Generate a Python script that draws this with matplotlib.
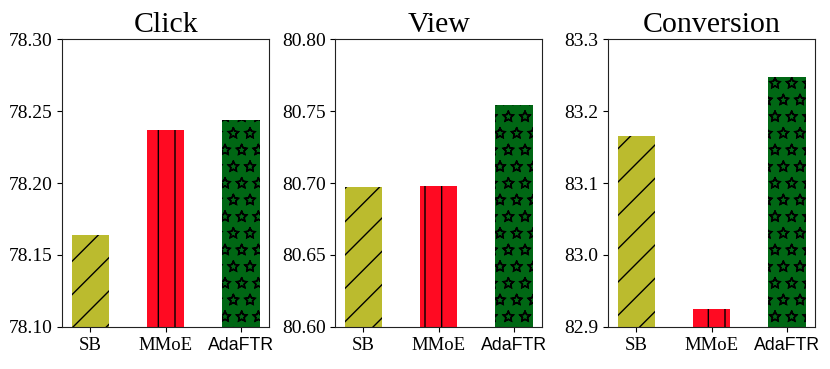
import matplotlib
matplotlib.use("Agg")
import matplotlib.pyplot as plt
import matplotlib.hatch as mhatch

methods = ["SB", "MMoE", "AdaFTR"]
titles = ["Click", "View", "Conversion"]
click = [78.164, 78.237, 78.244]
view = [80.697, 80.698, 80.754]
conversion = [83.165, 82.925, 83.247]
ylims = [(78.10, 78.30), (80.60, 80.80), (82.9, 83.3)]
yticks = [
    [78.10, 78.15, 78.20, 78.25, 78.30],
    [80.60, 80.65, 80.70, 80.75, 80.80],
    [82.9, 83.0, 83.1, 83.2, 83.3],
]
yfmt = ["{:.2f}", "{:.2f}", "{:.1f}"]

colors = ["#bbbb2e", "#ff0a22", "#006714"]
hatches = ["/", "|", "*"]


# outlined (hollow) star hatch instead of the default filled one
class HollowStars(mhatch.Stars):
    def __init__(self, hatch, density):
        super().__init__(hatch, density)
        self.filled = False
        if self.num_rows:
            self.num_vertices = self.num_shapes * len(self.shape_vertices) * 2


mhatch._hatch_types = [HollowStars if t is mhatch.Stars else t for t in mhatch._hatch_types]

serif = "Liberation Serif"

fig, axes = plt.subplots(1, 3, figsize=(8.3, 3.69), dpi=100)
fig.subplots_adjust(left=0.075, right=0.982, top=0.894, bottom=0.114, wspace=0.32)

for ax, title, vals, ylim, ticks, fmt in zip(axes, titles, [click, view, conversion], ylims, yticks, yfmt):
    x = range(len(methods))
    for i, v in enumerate(vals):
        ax.bar(i, v - ylim[0], bottom=ylim[0], width=0.5, color=colors[i],
               hatch=hatches[i], edgecolor="black", linewidth=0)
    ax.set_ylim(*ylim)
    ax.set_yticks(ticks)
    ax.set_yticklabels([fmt.format(t) for t in ticks], fontfamily=serif, fontsize=14)
    ax.set_xticks(list(x))
    labels = ax.set_xticklabels(methods, fontsize=13.5)
    for lab in labels:
        if lab.get_text() == "AdaFTR":
            lab.set_fontfamily("Liberation Sans")
            lab.set_fontsize(12.8)
        else:
            lab.set_fontfamily(serif)
    ax.set_title(title, fontfamily=serif, fontsize=21.5, pad=5)
    for sp in ax.spines.values():
        sp.set_color("#222222")

fig.savefig("out.png", dpi=100)
